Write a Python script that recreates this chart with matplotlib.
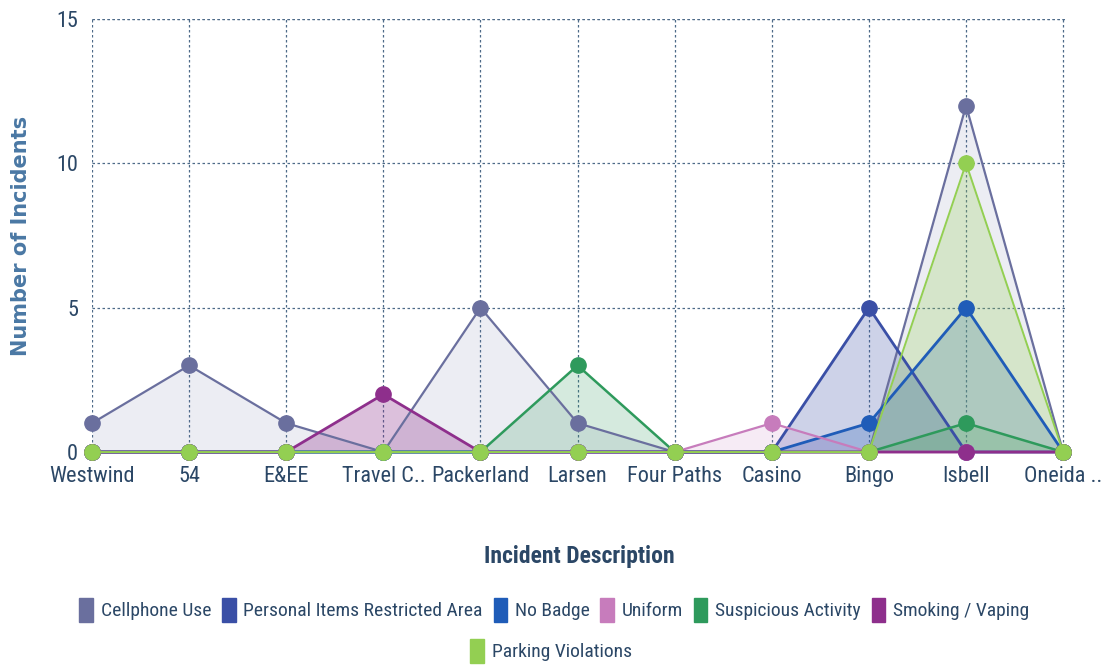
import numpy as np
import matplotlib
matplotlib.use('Agg')
import matplotlib.pyplot as plt
from matplotlib.patches import Patch

# dati
categories = ['Westwind', '54', 'E&EE', 'Travel C..', 'Packerland', 'Larsen',
              'Four Paths', 'Casino', 'Bingo', 'Isbell', 'Oneida ..']
series_names = ['Cellphone Use', 'Personal Items Restricted Area', 'No Badge',
                'Uniform', 'Suspicious Activity', 'Smoking / Vaping',
                'Parking Violations']
cellphone = [1, 3, 1, 0, 5, 1, 0, 0, 0, 12, 0]
personal_items = [0, 0, 0, 0, 0, 0, 0, 0, 5, 0, 0]
no_badge = [0, 0, 0, 0, 0, 0, 0, 0, 1, 5, 0]
uniform = [0, 0, 0, 0, 0, 0, 0, 1, 0, 0, 0]
suspicious = [0, 0, 0, 0, 0, 3, 0, 0, 0, 1, 0]
smoking = [0, 0, 0, 2, 0, 0, 0, 0, 0, 0, 0]
parking = [0, 0, 0, 0, 0, 0, 0, 0, 0, 10, 0]
y_ticks = [0, 5, 10, 15]

series_values = [cellphone, personal_items, no_badge, uniform,
                 suspicious, smoking, parking]
colors = ['#6a6f9e', '#3a4fa6', '#1f5cb8', '#c77cbc', '#2e9a5c', '#8e2f8c', '#93cf52']
fill_alpha = [0.12, 0.25, 0.25, 0.15, 0.2, 0.3, 0.25]
line_w = [1.6, 2.0, 2.0, 1.6, 1.8, 2.0, 1.4]

narrow = ['Roboto Condensed', 'DejaVu Sans']
label_col = '#2b4766'
grid_col = '#4d6a88'

fig = plt.figure(figsize=(11.02, 6.67), dpi=100)
ax = fig.add_axes([0.0835, 0.3223, 0.8848, 0.6492])

x = np.arange(len(categories))
for vals, name, c, a, lw in zip(series_values, series_names, colors, fill_alpha, line_w):
    ax.fill_between(x, vals, 0, color=c, alpha=a, linewidth=0)
    ax.plot(x, vals, color=c, lw=lw, marker='o', markersize=11,
            markeredgecolor=c, clip_on=False, zorder=3)

ax.set_xlim(0, len(categories) - 1 + 0.04)
ax.set_ylim(0, 15)
ax.set_xticks(x)
ax.set_xticklabels(categories, family=narrow, fontsize=16, color=label_col)
ax.set_yticks(y_ticks)
ax.set_yticklabels([str(v) for v in y_ticks], family=narrow, fontsize=16, color=label_col)
ax.tick_params(axis='x', length=0, pad=10)
ax.tick_params(axis='y', length=0, pad=10)

ax.grid(True, which='major', color=grid_col, linestyle=(0, (2, 2)), linewidth=0.9)
ax.set_axisbelow(True)
for s in ax.spines.values():
    s.set_visible(False)
ax.axhline(15, color=grid_col, linestyle=(0, (2, 2)), linewidth=0.9, zorder=0)

ax.set_ylabel('Number of Incidents', fontsize=15, fontweight='bold', color='#4a78a4', labelpad=18)
ax.set_xlabel('Incident Description', family=narrow, fontsize=17, fontweight='bold',
              color=label_col, labelpad=42)

# legenda su due righe centrate
handles = [Patch(facecolor=c, edgecolor=c) for c in colors]
leg_kw = dict(frameon=False, handlelength=0.7, handleheight=1.5, handletextpad=0.4,
              prop={'family': narrow, 'size': 14})
leg1 = fig.legend(handles[:6], series_names[:6], loc='center', bbox_to_anchor=(0.503, 0.0855),
                  ncol=6, columnspacing=0.55, **leg_kw)
leg2 = fig.legend(handles[6:], series_names[6:], loc='center', bbox_to_anchor=(0.5, 0.024),
                  ncol=1, **leg_kw)
for t in leg1.get_texts() + leg2.get_texts():
    t.set_color(label_col)

fig.savefig('out.png', dpi=100)
